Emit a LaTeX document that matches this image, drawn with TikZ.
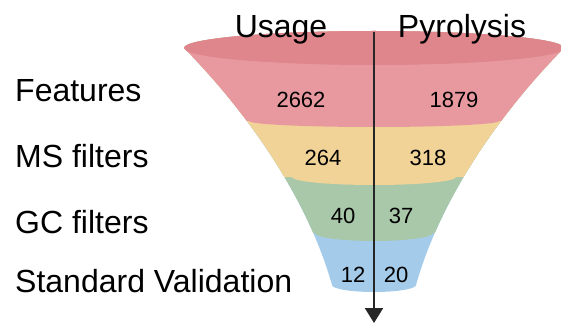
\documentclass[tikz,border=0pt]{standalone}
\usepackage{fontspec}
\setmainfont{Liberation Sans}
\usetikzlibrary{positioning,
        arrows.meta}
\usepackage{xcolor}
\definecolor{rimred}{HTML}{DE868C}
\definecolor{bandred}{HTML}{E8999F}
\definecolor{bandyellow}{HTML}{F2D397}
\definecolor{bandgreen}{HTML}{A8C8A9}
\definecolor{bandblue}{HTML}{A5CBEA}

\begin{document}
\begin{tikzpicture}[x=1pt,y=1pt,
        stage/.style={anchor=base west,inner sep=0pt,font=\fontsize{32}{36}\selectfont},
        head/.style={anchor=base,inner sep=0pt,font=\fontsize{32}{36}\selectfont},
        count/.style={anchor=base,inner sep=0pt,font=\fontsize{22}{26}\selectfont},
        flow/.style={draw=black!85,line width=2.2pt,-{Triangle[length=15pt,width=18pt]}}]
        \useasboundingbox (0,0) rectangle (561,-323);

        % funnel body, coloured band by band
        \begin{scope}
        \clip (184,-48) arc[start angle=180,end angle=0,x radius=190pt,y radius=17pt]
            .. controls (498,-115) and (440,-200) .. (416,-285)
            arc[start angle=0,end angle=-180,x radius=42pt,y radius=7pt]
            .. controls (308,-200) and (250,-115) .. (184,-48) -- cycle;
        \fill [bandblue] (150,0) rectangle (600,-323);
        \fill [bandgreen] (150,-233) -- (315,-233) arc[start angle=180,end angle=360,x radius=59pt,y radius=8pt] -- (600,-233) -- (600,0) -- (150,0) -- cycle;
        \fill [bandyellow] (150,-177) -- (292,-177) arc[start angle=180,end angle=360,x radius=82pt,y radius=8pt] -- (600,-177) -- (600,0) -- (150,0) -- cycle;
        \fill [bandred] (150,-121) -- (249,-121) arc[start angle=180,end angle=360,x radius=125pt,y radius=6pt] -- (600,-121) -- (600,0) -- (150,0) -- cycle;
        \fill [rimred] (374,-48) ellipse [x radius=190pt,y radius=17pt];
        \end{scope}

        \node [head] (usage) at (281,-38) {Usage};
        \node [head] (pyro) at (462,-38) {Pyrolysis};

        \node [stage] (feat) at (15,-102) {Features};
        \node [stage] (ms) at (15,-167) {MS filters};
        \node [stage] (gc) at (15,-233) {GC filters};
        \node [stage] (std) at (15,-292) {Standard Validation};

        \node [count] (u1) at (301,-108) {2662};
        \node [count] (p1) at (454,-108) {1879};
        \node [count] (u2) at (323,-165) {264};
        \node [count] (p2) at (428,-165) {318};
        \node [count] (u3) at (343,-223) {40};
        \node [count] (p3) at (401,-223) {37};
        \node [count] (u4) at (353,-282) {12};
        \node [count] (p4) at (396,-282) {20};

        \coordinate (start) at (374,-32);
        \coordinate (tip) at (374,-323);
        \draw [flow] (start) -- (tip);
    \end{tikzpicture}
\end{document}
